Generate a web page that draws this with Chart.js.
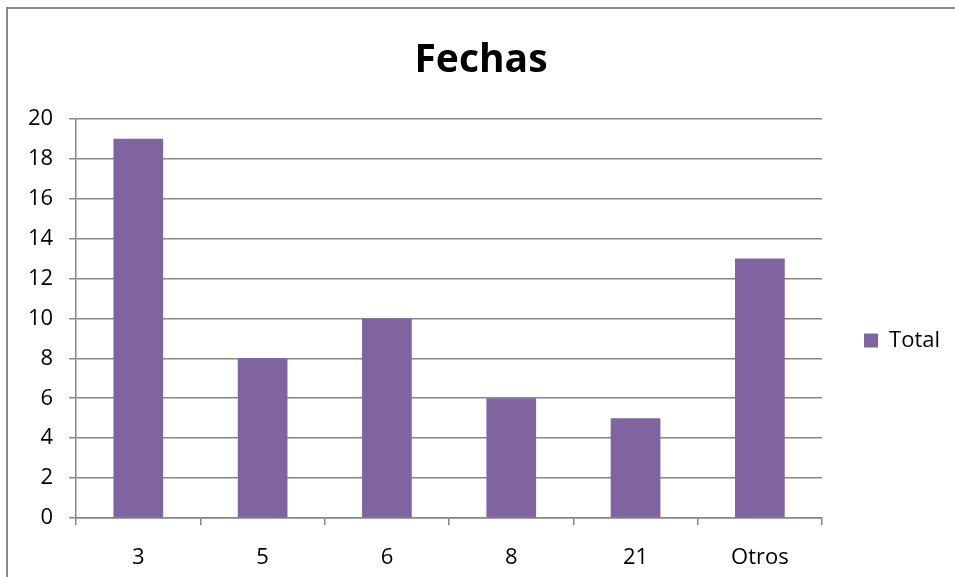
<!DOCTYPE html>
<html>
<head>
<meta charset="utf-8">
<script src="https://cdn.jsdelivr.net/npm/chart.js@4"></script>
<style>
  body { margin: 0; background: #fff; }
  #frame { position: absolute; left: 6px; top: 7px; width: 1000px; height: 600px;
           border-left: 2px solid #888; border-top: 2px solid #888; }
  #wrap { position: absolute; left: 0; top: 0; width: 955px; height: 577px; }
</style>
</head>
<body>
<div id="frame"></div>
<div id="wrap"><canvas id="chart1" width="955" height="577"></canvas></div>
<script>
// values
const categories = ['3', '5', '6', '8', '21', 'Otros'];
const totals = [19, 8, 10, 6, 5, 13];
const seriesName = 'Total';
const yMax = 20;
const yStep = 2;

const gray = '#868686';
const fontFamily = '"Open Sans", sans-serif';

new Chart(document.getElementById('chart1'), {
  type: 'bar',
  data: {
    labels: categories,
    datasets: [{
      label: seriesName,
      data: totals,
      backgroundColor: '#8064A2',
      categoryPercentage: 1,
      barPercentage: 0.4,
    }],
  },
  options: {
    responsive: false,
    animation: false,
    layout: { padding: { top: 8, left: 12, right: 5, bottom: -14 } },
    plugins: {
      title: {
        display: true,
        text: 'Fechas',
        color: '#000',
        font: { family: fontFamily, size: 39, weight: 'bold' },
        padding: { top: 29, bottom: 35 },
      },
      legend: {
        position: 'right',
        fullSize: false,
        // empty title only pushes the legend entry down a bit
        title: { display: true, text: ' ', padding: { top: 15, bottom: 15 } },
        labels: {
          color: '#000',
          font: { family: fontFamily, size: 22 },
          boxWidth: 14,
          boxHeight: 14,
          padding: 42,
        },
      },
      tooltip: { enabled: false },
    },
    scales: {
      x: {
        grid: { drawOnChartArea: false, drawTicks: true, tickLength: 7, color: gray, lineWidth: 1.5 },
        border: { color: gray, width: 1.5 },
        ticks: { color: '#000', font: { family: fontFamily, size: 22, lineHeight: 1 }, padding: 22 },
      },
      y: {
        min: 0,
        max: yMax,
        grid: { color: gray, lineWidth: 1.5, tickLength: 7 },
        border: { color: gray, width: 1.5 },
        ticks: { stepSize: yStep, color: '#000', font: { family: fontFamily, size: 22 }, padding: 16 },
      },
    },
  },
});
</script>
</body>
</html>
